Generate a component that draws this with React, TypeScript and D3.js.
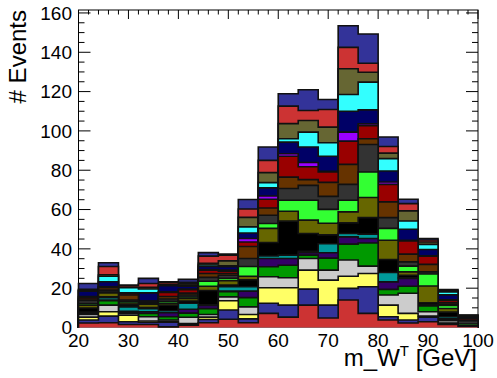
import React, { useEffect, useRef } from 'react';
import * as d3 from 'd3';

// bin edges of the m_W^T histogram (GeV)
const binEdges = [20, 24, 28, 32, 36, 40, 44, 48, 52, 56, 60, 64, 68, 72, 76, 80, 84, 88, 92, 96, 100];

// stacked samples, bottom to top, one value per bin
const red1 = [2.3, 2.4, 1.5, 1.5, 0.3, 1.2, 2.4, 4.2, 2.4, 7.2, 5.3, 11.4, 4.8, 14.0, 7.2, 3.8, 2.3, 2.9, 1.5, 0.6];
const blue1 = [1.5, 3.4, 1.4, 1.2, 2.4, 0.4, 1.7, 4.7, 2.0, 5.1, 6.1, 8.1, 6.6, 5.9, 13.5, 1.7, 1.5, 2.3, 0.5, 0];
const yellow = [1.5, 2.2, 3.4, 0.6, 0.5, 0.4, 1.2, 4.7, 2.2, 7.9, 8.8, 9.7, 12.7, 6.2, 6.8, 5.9, 3.4, 0.6, 0.3, 0];
const lightGray = [1.3, 3.4, 1.0, 2.2, 0.6, 3.2, 1.3, 2.0, 3.9, 5.6, 5.1, 5.9, 5.1, 8.2, 3.7, 5.1, 10.2, 2.2, 1.2, 0];
const green = [0.4, 2.2, 0.5, 1.7, 1.7, 2.1, 3.0, 2.6, 4.7, 5.1, 6.4, 1.7, 6.1, 8.1, 11.8, 2.9, 3.6, 2.9, 0.7, 0];
const indigo = [0.3, 0.4, 0.5, 0.8, 2.0, 2.0, 1.6, 0.3, 3.3, 4.2, 3.4, 1.2, 2.7, 3.7, 2.3, 3.8, 4.0, 0.5, 0.3, 0];
const teal = [0.5, 1.2, 2.2, 1.5, 1.0, 3.0, 0.4, 2.2, 2.2, 1.3, 1.7, 0.8, 4.6, 1.7, 2.2, 4.8, 0.3, 0.3, 1.0, 0];
const black = [2.1, 0.4, 1.0, 0.7, 2.9, 1.2, 7.2, 0.9, 3.6, 6.8, 17.3, 9.0, 4.5, 5.4, 8.4, 6.6, 1.3, 0.9, 2.3, 0];
const olive = [1.5, 2.0, 1.0, 1.6, 0.9, 1.3, 2.2, 2.2, 1.8, 7.2, 5.0, 6.8, 5.9, 5.6, 10.2, 9.8, 1.7, 8.5, 1.9, 0];
const brightGreen = [0.8, 0.4, 0.8, 0.4, 1.0, 0.7, 2.5, 1.2, 4.9, 2.5, 5.6, 10.1, 7.1, 5.9, 13.0, 6.0, 2.9, 6.1, 1.5, 1.2];
const darkGray = [1.5, 1.0, 0.7, 0.4, 1.2, 1.0, 2.0, 1.6, 4.1, 4.2, 6.0, 7.6, 6.6, 8.1, 14.0, 5.5, 2.2, 1.1, 0.7, 1.7];
const brown = [0.8, 1.2, 2.5, 0.5, 1.3, 1.0, 2.0, 0.9, 6.1, 3.7, 5.8, 2.9, 7.1, 10.2, 2.9, 8.0, 3.9, 3.8, 0.8, 0.3];
const darkRed = [0.7, 0.3, 0.7, 0.2, 2.0, 1.7, 1.7, 1.2, 2.3, 4.4, 10.6, 6.6, 5.3, 11.8, 6.6, 8.9, 6.7, 4.2, 1.2, 0.9];
const purple = [0.6, 0.2, 0.1, 0.1, 0.4, 0.3, 0.3, 0.5, 1.8, 1.7, 1.3, 2.1, 0.3, 4.6, 1.0, 1.2, 0.4, 0.2, 0.2, 0];
const navy = [2.7, 2.6, 0.3, 4.2, 3.0, 1.5, 1.5, 1.7, 2.8, 4.1, 5.9, 7.9, 7.7, 10.6, 7.1, 5.6, 5.6, 3.2, 2.5, 0.7];
const cyan = [0.3, 2.8, 2.6, 2.0, 0.3, 0.5, 0.8, 0.5, 3.1, 2.7, 1.7, 7.6, 6.9, 8.5, 14.1, 6.3, 4.2, 2.6, 1.5, 0.5];
const oliveGray = [0.2, 0.7, 0.3, 0.8, 0.3, 0.7, 0.8, 2.5, 4.8, 5.1, 7.7, 5.9, 7.9, 13.1, 5.0, 2.8, 5.1, 1.2, 0.4, 0.1];
const red2 = [0.4, 4.2, 0.7, 2.0, 1.0, 0.8, 3.7, 2.9, 4.3, 6.2, 8.9, 5.1, 9.0, 10.9, 4.6, 3.4, 3.7, 1.0, 0.3, 0.15];
const blue2 = [3.0, 1.9, 0.4, 2.6, 0.5, 1.5, 1.8, 0.5, 4.8, 6.8, 6.3, 10.5, 5.1, 11.0, 14.9, 4.8, 2.2, 0.8, 0.5, 0.15];

const layerNames = [
  'red1', 'blue1', 'yellow', 'lightGray', 'green', 'indigo', 'teal', 'black', 'olive', 'brightGreen',
  'darkGray', 'brown', 'darkRed', 'purple', 'navy', 'cyan', 'oliveGray', 'red2', 'blue2',
];
const layerValues = [
  red1, blue1, yellow, lightGray, green, indigo, teal, black, olive, brightGreen,
  darkGray, brown, darkRed, purple, navy, cyan, oliveGray, red2, blue2,
];
const layerColors = [
  '#cc3333', '#333399', '#ffff66', '#cccccc', '#009900', '#330066', '#009999', '#000000', '#666600', '#33ff33',
  '#333333', '#663300', '#990000', '#9900ff', '#000066', '#33ffff', '#666633', '#cc3333', '#333399',
];

const xTicks = [20, 30, 40, 50, 60, 70, 80, 90, 100];
const yTicks = [0, 20, 40, 60, 80, 100, 120, 140, 160];

const W = 497;
const H = 378;
const FONT = '"Liberation Sans", Arial, Helvetica, sans-serif';

const App: React.FC = () => {
  const svgRef = useRef<SVGSVGElement>(null);

  useEffect(() => {
    if (!svgRef.current) return;
    const svg = d3.select(svgRef.current);
    svg.selectAll('*').remove();

    const x = d3.scaleLinear().domain([20, 100]).range([78.5, 478]);
    const y = d3.scaleLinear().domain([0, 161.5]).range([327.5, 10]);
    const [x0, x1] = x.range();
    const [yb, yt] = y.range();

    const axes = svg.append('g').attr('stroke', '#000').attr('stroke-width', 1);

    // x ticks, bottom (pointing up) and top (pointing down)
    d3.range(20, 100.01, 2).forEach((v) => {
      const major = v % 10 === 0;
      const len = major ? 9 : 4.5;
      axes.append('line').attr('x1', x(v)).attr('x2', x(v)).attr('y1', yb).attr('y2', yb - len);
      axes.append('line').attr('x1', x(v)).attr('x2', x(v)).attr('y1', yt).attr('y2', yt + len);
    });
    // y ticks, left (pointing right) and right (pointing left)
    d3.range(0, 161.5, 5).forEach((v) => {
      const major = v % 20 === 0;
      const len = major ? 12 : 6;
      axes.append('line').attr('x1', x0).attr('x2', x0 + len).attr('y1', y(v)).attr('y2', y(v));
      axes.append('line').attr('x1', x1).attr('x2', x1 - len).attr('y1', y(v)).attr('y2', y(v));
    });
    axes
      .append('rect')
      .attr('x', x0)
      .attr('y', yt)
      .attr('width', x1 - x0)
      .attr('height', yb - yt)
      .attr('fill', 'none');

    // stacked histograms
    const rows = binEdges.slice(0, -1).map((_, i) => {
      const r: { [k: string]: number } = {};
      layerNames.forEach((n, k) => {
        r[n] = layerValues[k][i];
      });
      return r;
    });
    const stacked = d3.stack<{ [k: string]: number }>().keys(layerNames)(rows);

    const area = d3
      .area<[number, number]>()
      .x((d) => x(d[0]))
      .y0(yb)
      .y1((d) => y(d[1]));
    const line = d3
      .line<[number, number]>()
      .x((d) => x(d[0]))
      .y((d) => y(d[1]));

    const hists = svg.append('g');
    for (let k = stacked.length - 1; k >= 0; k--) {
      const pts: [number, number][] = [];
      stacked[k].forEach((d, i) => {
        pts.push([binEdges[i], d[1]]);
        pts.push([binEdges[i + 1], d[1]]);
      });
      hists.append('path').attr('d', area(pts)).attr('fill', layerColors[k]);
      const outline: [number, number][] = [[binEdges[0], 0], ...pts, [binEdges[binEdges.length - 1], 0]];
      hists
        .append('path')
        .attr('d', line(outline))
        .attr('fill', 'none')
        .attr('stroke', '#111')
        .attr('stroke-width', 1.6);
    }

    // labels
    const labels = svg.append('g').attr('font-family', FONT).attr('fill', '#000');
    yTicks.forEach((v) => {
      labels
        .append('text')
        .attr('x', 72)
        .attr('y', y(v))
        .attr('dy', '0.36em')
        .attr('text-anchor', 'end')
        .attr('font-size', 19)
        .text(v);
    });
    xTicks.forEach((v) => {
      labels
        .append('text')
        .attr('x', x(v))
        .attr('y', 347)
        .attr('text-anchor', 'middle')
        .attr('font-size', 19)
        .text(v);
    });

    const xt = labels
      .append('text')
      .attr('x', 477)
      .attr('y', 366)
      .attr('text-anchor', 'end')
      .attr('font-size', 24);
    xt.append('tspan').text('m_W');
    xt.append('tspan').attr('font-size', 15).attr('dy', -10).text('T');
    xt.append('tspan').attr('dy', 10).text(' [GeV]');

    labels
      .append('text')
      .attr('transform', 'translate(26,10) rotate(-90)')
      .attr('text-anchor', 'end')
      .attr('font-size', 24)
      .text('# Events');
  }, []);

  return (
    <svg
      ref={svgRef}
      width={W}
      height={H}
      style={{ position: 'absolute', left: 0, top: 0, background: '#fff' }}
    />
  );
};

export default App;
